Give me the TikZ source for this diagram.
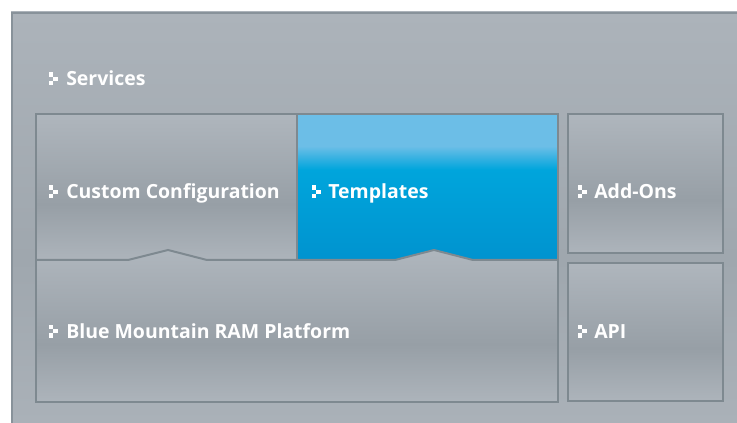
\documentclass[tikz,border=0pt]{standalone}
\usepackage{fontspec}
\setmainfont{Open Sans}
\definecolor{edgegrey}{HTML}{7E8990}
\definecolor{frameedge}{HTML}{88929A}
\definecolor{gTop}{HTML}{AFB6BD}
\definecolor{gMid}{HTML}{979FA6}
\definecolor{gBot}{HTML}{ADB4BB}
\definecolor{fTop}{HTML}{ACB3BA}
\definecolor{fMid}{HTML}{9FA7AE}
\definecolor{fBot}{HTML}{AAB1B8}
\definecolor{bTop}{HTML}{6CBEE7}
\definecolor{bMid}{HTML}{00A5DC}
\definecolor{bBot}{HTML}{0093CF}
\pgfdeclareverticalshading{greybox}{100bp}{color(0bp)=(gBot); color(25bp)=(gBot); color(44bp)=(gMid); color(75bp)=(gTop); color(100bp)=(gTop)}
\pgfdeclareverticalshading{framebox}{100bp}{color(0bp)=(fBot); color(25bp)=(fBot); color(45bp)=(fMid); color(75bp)=(fTop); color(100bp)=(fTop)}
\pgfdeclareverticalshading{bluebox}{100bp}{color(0bp)=(bBot); color(25bp)=(bBot); color(56bp)=(bMid); color(64bp)=(bTop); color(75bp)=(bTop); color(100bp)=(bTop)}
\begin{document}
\begin{tikzpicture}[x=0.75pt,y=-0.75pt,
  lbl/.style={anchor=base west, inner sep=0pt, text=white,
    font=\fontsize{14.6}{17}\selectfont\bfseries},
  boxedge/.style={draw=edgegrey, line width=1.5pt},
  bullet/.pic={
    \fill[white] (0,-13.5) rectangle (4.6,-9);
    \fill[white] (4.4,-9.2) rectangle (9,-4.8);
    \fill[white] (0,-5) rectangle (4.6,-0.5);
  }]
\useasboundingbox (0,0) rectangle (737,423);
\fill[white] (0,0) rectangle (737,423);
% outer frame
\shade[shading=framebox] (11,12) rectangle (737,423);
\draw[frameedge, line width=2.2pt] (12,423) -- (12,13) -- (737,13);
% upper left boxes
\shade[shading=greybox] (36,114) rectangle (297,260);
\shade[shading=bluebox] (297,114) rectangle (558,260);
% platform with mountains
\shade[shading=greybox] (36,260) -- (128,260) -- (168,250) -- (207,260) -- (395,260) -- (434,250) -- (473,260) -- (558,260) -- (558,402) -- (36,402) -- cycle;
\draw[boxedge] (36,114) rectangle (558,402);
\draw[boxedge] (297,114) -- (297,260);
\draw[boxedge] (36,260) -- (128,260) -- (168,250) -- (207,260) -- (395,260) -- (434,250) -- (473,260) -- (558,260);
% right boxes
\shade[shading=greybox] (568,114) rectangle (723,253);
\draw[boxedge] (568,114) rectangle (723,253);
\shade[shading=greybox] (568,263) rectangle (723,401);
\draw[boxedge] (568,263) rectangle (723,401);
% labels
\node[lbl] (services) at (66,86) {Services};
\pic at (48.5,86) {bullet};
\node[lbl] (custom) at (66,199) {Custom Configuration};
\pic at (48.5,199) {bullet};
\node[lbl] (templates) at (328,199) {Templates};
\pic at (311.5,199) {bullet};
\node[lbl] (addons) at (594,199) {Add-Ons};
\pic at (577.5,199) {bullet};
\node[lbl] (platform) at (66,338) {Blue Mountain RAM Platform};
\pic at (48.5,338) {bullet};
\node[lbl] (api) at (594,338) {API};
\pic at (577.5,338) {bullet};
\end{tikzpicture}
\end{document}
